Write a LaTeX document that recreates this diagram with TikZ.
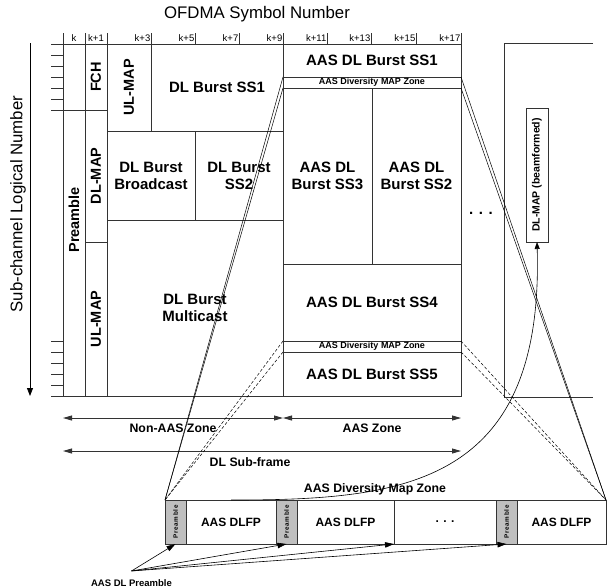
\documentclass[tikz,border=0pt]{standalone}
\usepackage{fontspec}
\setmainfont{Liberation Sans}
\usetikzlibrary{arrows.meta, positioning, calc}
\tikzset{
    base/.style = {
        draw=black!80, line width=0.8pt, inner sep=0pt, outer sep=0pt, align=center,
        font=\fontsize{15}{17}\selectfont\bfseries
    },
    % Frame cells
    cell/.style     = {base, rectangle, anchor=north west},
    vcell/.style    = {cell, font=\fontsize{14.5}{16}\selectfont\bfseries},
    zonebar/.style  = {cell, font=\fontsize{9}{9}\selectfont\bfseries},
    preblock/.style = {base, rectangle, fill=black!25, minimum width=21pt, minimum height=44pt,
        font=\fontsize{6.3}{7}\selectfont\bfseries\addfontfeatures{LetterSpace=12}},
    fpcell/.style   = {base, rectangle, minimum height=44pt, font=\fontsize{12}{14}\selectfont\bfseries},
    % Edges and annotations
    gridline/.style = {draw=black!80, line width=0.8pt},
    dimarrow/.style = {line width=0.8pt, draw=black!80, {Triangle[length=9pt,width=5pt]}-{Triangle[length=9pt,width=5pt]}},
    arrow/.style    = {line width=0.6pt, -{Triangle[length=9pt,width=5.5pt]}},
    zoomline/.style = {line width=0.5pt},
    zoomdash/.style = {line width=0.5pt, densely dashed},
    ticklabel/.style  = {font=\fontsize{9.5}{10}\selectfont, inner sep=0.5pt},
    annotation/.style = {font=\fontsize{12.3}{14}\selectfont\bfseries, inner sep=1pt}
}

\begin{document}
\begin{tikzpicture}[x=1pt, y=-1pt]
    \useasboundingbox (0,0) rectangle (608,587);

    % axis titles
    \node (xtitle) at (257,14.5) {\fontsize{16.8}{18}\selectfont OFDMA Symbol Number};
    \node (ytitle) [rotate=90] at (18,204) {\fontsize{16.8}{18}\selectfont Sub-channel Logical Number};
    \coordinate (ax-top) at (30,43);
    \coordinate (ax-bot) at (30,396);
    \draw [line width=0.8pt, -{Triangle[length=8pt,width=6pt]}] (ax-top) -- (ax-bot);

    % non-AAS part of the frame
    \node (preamble) [vcell, minimum width=22pt, minimum height=352pt] at (63,44) {\rotatebox{90}{Preamble}};
    \node (fch) [vcell, minimum width=22pt, minimum height=66pt] at (preamble.north east) {\rotatebox{90}{FCH}};
    \node (dlmap) [vcell, minimum width=22pt, minimum height=132pt] at (fch.south west) {\rotatebox{90}{DL-MAP}};
    \node (ulmap) [vcell, minimum width=22pt, minimum height=154pt] at (dlmap.south west) {\rotatebox{90}{UL-MAP}};
    \node (ulmap2) [vcell, minimum width=44pt, minimum height=87pt] at (fch.north east) {\rotatebox{90}{UL-MAP}};
    \node (ss1) [cell, minimum width=132pt, minimum height=87pt] at (ulmap2.north east) {DL Burst SS1};
    \node (bcast) [cell, minimum width=88pt, minimum height=89pt] at (ulmap2.south west) {DL Burst\\Broadcast};
    \node (ss2) [cell, minimum width=88pt, minimum height=89pt] at (bcast.north east) {DL Burst\\SS2};
    \node (mcast) [cell, minimum width=176pt, minimum height=176pt] at (bcast.south west) {DL Burst\\Multicast};

    % AAS zone
    \node (aas1) [cell, minimum width=178pt, minimum height=33pt] at (ss1.north east) {AAS DL Burst SS1};
    \node (divtop) [zonebar, minimum width=178pt, minimum height=11pt] at (aas1.south west) {AAS Diversity MAP Zone};
    \node (aas3) [cell, minimum width=89pt, minimum height=176pt] at (divtop.south west) {AAS DL\\Burst SS3};
    \node (aas2) [cell, minimum width=89pt, minimum height=176pt] at (aas3.north east) {AAS DL\\Burst SS2};
    \node (aas4) [cell, minimum width=178pt, minimum height=77pt] at (aas3.south west) {AAS DL Burst SS4};
    \node (divbot) [zonebar, minimum width=178pt, minimum height=11pt] at (aas4.south west) {AAS Diversity MAP Zone};
    \node (aas5) [cell, minimum width=178pt, minimum height=44pt] at (divbot.south west) {AAS DL Burst SS5};

    % ticks and symbol numbers
    \foreach \y in {44,55,66,77,88,99,341,352,363,374,385,396}
        \draw [gridline] (51,\y) -- (63,\y);
    \draw [gridline] (51,110) -- (107,110);
    \foreach \x in {63,85,107,151,195,239,283,327,371,416,461}
        \draw [gridline] (\x,33) -- (\x,44);
    \node (tk-0) [ticklabel, anchor=base] at (74,41.5) {k};
    \node (tk-1) [ticklabel, anchor=base] at (96,41.5) {k+1};
    \foreach \x/\n in {151/3,195/5,239/7,283/9,327/11,371/13,416/15,461/17}
        \node (tk-\n) [ticklabel, anchor=base east] at (\x,41.5) {k+\n};

    \node (dots) [font=\fontsize{15}{17}\selectfont\bfseries] at (481,213) {. . .};

    % next frame
    \draw [gridline] (593,43) -- (504,43) -- (504,397) -- (593,397);
    \node (bfmap) [base, minimum width=22pt, minimum height=134pt, font=\fontsize{10.5}{12}\selectfont\bfseries]
        at (537,175) {\rotatebox{90}{DL-MAP (beamformed)}};

    % zone extents
    \coordinate (nz-l) at (63,418);
    \coordinate (nz-r) at (283,418);
    \coordinate (az-r) at (461,418);
    \coordinate (sf-l) at (63,451);
    \coordinate (sf-r) at (461,451);
    \draw [dimarrow] (nz-l) -- node[below=5pt, annotation] (nzlbl) {Non-AAS Zone} (nz-r);
    \draw [dimarrow] (nz-r) -- node[below=5pt, annotation] (azlbl) {AAS Zone} (az-r);
    \draw [dimarrow] (sf-l) -- node[below=5pt, annotation, pos=0.47] (sflbl) {DL Sub-frame} (sf-r);

    % AAS diversity map zone, zoomed
    \node (spre1) [preblock] at (175.5,522) {\rotatebox{90}{Preamble}};
    \node (dlfp1) [fpcell, minimum width=90pt, right=0pt of spre1] {AAS DLFP};
    \node (spre2) [preblock, right=0pt of dlfp1] {\rotatebox{90}{Preamble}};
    \node (dlfp2) [fpcell, minimum width=97pt, right=0pt of spre2] {AAS DLFP};
    \node (sdots) [fpcell, minimum width=102pt, right=0pt of dlfp2] {. . .};
    \node (spre3) [preblock, right=0pt of sdots] {\rotatebox{90}{Preamble}};
    \node (dlfp3) [fpcell, minimum width=89pt, right=0pt of spre3] {AAS DLFP};
    \node (striptitle) [annotation] at (375,489) {AAS Diversity Map Zone};

    \draw [zoomline] (divtop.north west) -- (spre1.north west);
    \draw [zoomline] (divtop.south west) -- (spre1.north west);
    \draw [zoomline] (divtop.north east) -- (dlfp3.north east);
    \draw [zoomline] (divtop.south east) -- (dlfp3.north east);
    \draw [zoomdash] (divbot.north west) -- (spre1.north west);
    \draw [zoomdash] (divbot.south west) -- (spre1.north west);
    \draw [zoomdash] (divbot.north east) -- (dlfp3.north east);
    \draw [zoomdash] (divbot.south east) -- (dlfp3.north east);

    \draw [line width=0.6pt, -{Triangle[length=7pt,width=5pt]}]
        (dlfp1.north) .. controls +(170,0) and +(7,245) .. (bfmap.south);

    \node (dlpre) [font=\fontsize{9.5}{10}\selectfont\bfseries] at (131.5,583) {AAS DL Preamble};
    \foreach \t in {spre1.south, spre2.south, sdots.south west, spre3.south}
        \draw [arrow] ([yshift=5pt]dlpre.north) -- (\t);
\end{tikzpicture}
\end{document}
